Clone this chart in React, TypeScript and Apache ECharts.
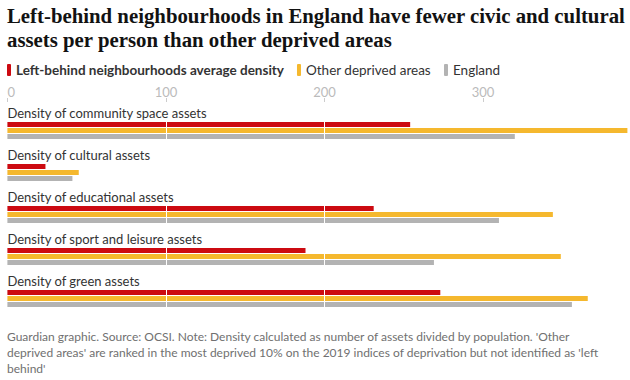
import React, { useEffect, useRef } from "react";
import * as echarts from "echarts";

const titleText =
  "Left-behind neighbourhoods in England have fewer civic and cultural\nassets per person than other deprived areas";
const footerText =
  "Guardian graphic. Source: OCSI. Note: Density calculated as number of assets divided by population. 'Other\ndeprived areas' are ranked in the most deprived 10% on the 2019 indices of deprivation but not identified as 'left\nbehind'";

const categories = [
  "Density of community space assets",
  "Density of cultural assets",
  "Density of educational assets",
  "Density of sport and leisure assets",
  "Density of green assets",
];
const seriesNames = [
  "Left-behind neighbourhoods average density",
  "Other deprived areas",
  "England",
];
const leftBehind = [254, 24, 231, 188, 273];
const otherDeprived = [391, 45, 344, 349, 366];
const england = [320, 41, 310, 269, 356];
const tickValues = [0, 100, 200, 300];

const colors = ["#cc0a11", "#f5b82e", "#b3b3b3"];

export default function App() {
  const ref = useRef<HTMLDivElement>(null);
  useEffect(() => {
    if (!ref.current) return;
    const chart = echarts.init(ref.current, null, { renderer: "svg" });
    const values = [leftBehind, otherDeprived, england];
    const option: any = {
      animation: false,
      title: [
        {
          text: titleText,
          left: 7,
          top: 3,
          padding: 0,
          textStyle: {
            fontFamily: "Liberation Serif",
            fontWeight: "bold",
            fontSize: 20.8,
            lineHeight: 24,
            color: "#121212",
          },
        },
        {
          text: footerText,
          left: 7,
          top: 328,
          padding: 0,
          textStyle: {
            fontFamily: "Lato",
            fontWeight: "normal",
            fontSize: 12,
            lineHeight: 16,
            color: "#707070",
          },
        },
      ],
      legend: {
        left: 7,
        top: 63,
        padding: 0,
        itemWidth: 4,
        itemHeight: 12,
        itemGap: 13,
        icon: "roundRect",
        data: seriesNames,
        formatter: (name: string) =>
          name === seriesNames[0] ? `{b|${name}}` : `{n|${name}}`,
        textStyle: {
          fontFamily: "Lato",
          fontSize: 13.5,
          color: "#333",
          rich: {
            b: {
              fontFamily: "Lato",
              fontSize: 13.5,
              fontWeight: "bold",
              color: "#333",
              padding: [0, 10, 0, 0],
            },
            n: { fontFamily: "Lato", fontSize: 13.5, color: "#333" },
          },
        },
      },
      grid: { left: 7.4, right: 2.6, top: 109.5, bottom: 60.5, containLabel: false },
      xAxis: {
        type: "value",
        position: "top",
        min: 0,
        max: "dataMax",
        interval: 100,
        offset: 7.5,
        z: 3,
        axisLine: { show: false },
        axisTick: {
          show: true,
          length: 4,
          customValues: tickValues,
          lineStyle: { color: "#cccccc" },
        },
        axisLabel: {
          color: "#bbbbbb",
          fontFamily: "Lato",
          fontSize: 13,
          margin: 4,
          customValues: tickValues,
          alignMinLabel: "left",
        },
        splitLine: {
          show: true,
          showMinLine: false,
          showMaxLine: false,
          lineStyle: { color: "#ffffff", width: 1 },
        },
      },
      yAxis: {
        type: "category",
        data: categories,
        inverse: true,
        z: 4,
        axisLine: { show: false },
        axisTick: { show: false },
        splitLine: { show: false },
        axisLabel: {
          inside: true,
          interval: 0,
          showMinLabel: true,
          showMaxLabel: true,
          hideOverlap: false,
          margin: 0,
          color: "#333",
          fontFamily: "Lato",
          fontSize: 13,
          lineHeight: 35,
          verticalAlign: "middle",
          formatter: (v: string) => v + "\n ",
        },
      },
      series: seriesNames.map((name, i) => ({
        name,
        type: "bar",
        data: values[i],
        barWidth: 5,
        barGap: "20%",
        silent: true,
        itemStyle: { color: colors[i] },
      })),
    };
    chart.setOption(option);
    return () => chart.dispose();
  }, []);
  return (
    <div
      ref={ref}
      style={{ position: "fixed", left: 0, top: 0, width: 630, height: 380, background: "#fff" }}
    />
  );
}
